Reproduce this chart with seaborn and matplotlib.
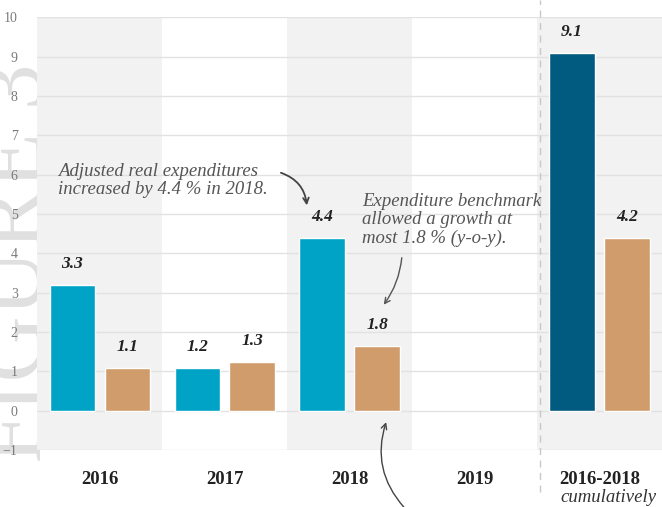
import pandas as pd
import matplotlib.pyplot as plt
import seaborn as sns
import numpy as np

categories = ["2016", "2017", "2018", "2019", "2016-2018"]
adjusted = [3.2, 1.1, 4.4, np.nan, 9.1]
benchmark = [1.1, 1.25, 1.65, np.nan, 4.4]
adjusted_labels = ["3.3", "1.2", "4.4", "", "9.1"]
benchmark_labels = ["1.1", "1.3", "1.8", "", "4.2"]
yticks = list(range(-1, 11))

BLUE = "#00a3c6"
DARK = "#015a80"
BROWN = "#d09c6b"
SERIF = ["Liberation Serif", "DejaVu Serif"]

df = pd.DataFrame({
    "cat": categories * 2,
    "value": adjusted + benchmark,
    "series": ["adjusted"] * 5 + ["benchmark"] * 5,
})

sns.set_style("white")
plt.rcParams["font.family"] = SERIF

fig = plt.figure(figsize=(6.62, 5.07), dpi=100)
ax = fig.add_axes([0.056, 0.112, 0.944, 0.854])
ax.set_facecolor("none")
ax.set_zorder(1)

# watermark, behind the axes
fig.text(0.03, 0.48, "FIGURE 3", rotation=90, fontsize=66, color="#e0e0e0",
         ha="center", va="center", zorder=0)

# alternating background bands
for i in range(len(categories)):
    if i % 2 == 0:
        ax.axvspan(i - 0.5, i + 0.5, color="#f2f2f2", zorder=0, lw=0)
for y in yticks:
    ax.axhline(y, color="#e2e2e2", lw=1, zorder=1)

sns.barplot(data=df, x="cat", y="value", hue="series", order=categories,
            palette=[BLUE, BROWN], width=0.88, gap=0.18, ax=ax,
            legend=False, zorder=3, saturation=1)

# cumulative adjusted bar is dark blue
ax.containers[0][-1].set_facecolor(DARK)

for cont, labels in zip(ax.containers, [adjusted_labels, benchmark_labels]):
    labels = [l for l in labels if l]
    ax.bar_label(cont, labels=labels, padding=9, fontsize=12.5,
                 fontweight="bold", fontstyle="italic", color="#222222")

ax.set_xlim(-0.5, 4.5)
ax.set_ylim(-1, 10)
ax.set_yticks(yticks)
ax.set_xlabel("")
ax.set_ylabel("")
ax.tick_params(axis="y", colors="#7a7a7a", labelsize=10, length=0, pad=14)
ax.tick_params(axis="x", length=0, pad=15)
for lab in ax.get_xticklabels():
    lab.set_fontweight("bold")
    lab.set_fontsize(13.5)
    lab.set_color("#222222")
sns.despine(ax=ax, left=True, bottom=True, top=True, right=True)

ax.text(4.07, -2.2, "cumulatively", ha="center", va="center", fontsize=13.5,
        fontstyle="italic", color="#333333", clip_on=False)

# dashed divider
ax.plot([3.52, 3.52], [-2.05, 10.45], ls=(0, (5, 4)), color="#c8c8c8", lw=1,
        clip_on=False, zorder=2)

# annotations
ax.text(-0.33, 5.85, "Adjusted real expenditures\nincreased by 4.4 % in 2018.",
        fontsize=13.5, fontstyle="italic", color="#555555", va="center",
        linespacing=1.1, zorder=4)
ax.annotate("", xy=(1.66, 5.15), xytext=(1.43, 6.07),
            arrowprops=dict(arrowstyle="->", color="#444444", lw=1.3,
                            connectionstyle="arc3,rad=-0.35"))
ax.text(2.1, 4.85, "Expenditure benchmark\nallowed a growth at\nmost 1.8 % (y-o-y).",
        fontsize=13.5, fontstyle="italic", color="#555555", va="center",
        linespacing=1.1, zorder=4)
ax.annotate("", xy=(2.26, 2.64), xytext=(2.42, 3.96),
            arrowprops=dict(arrowstyle="->", color="#555555", lw=1,
                            connectionstyle="arc3,rad=-0.15"))
ax.annotate("", xy=(2.3, -0.22), xytext=(2.45, -2.5),
            arrowprops=dict(arrowstyle="->", color="#444444", lw=1,
                            connectionstyle="arc3,rad=-0.3"),
            annotation_clip=False)

fig.savefig("out.png", dpi=100)
